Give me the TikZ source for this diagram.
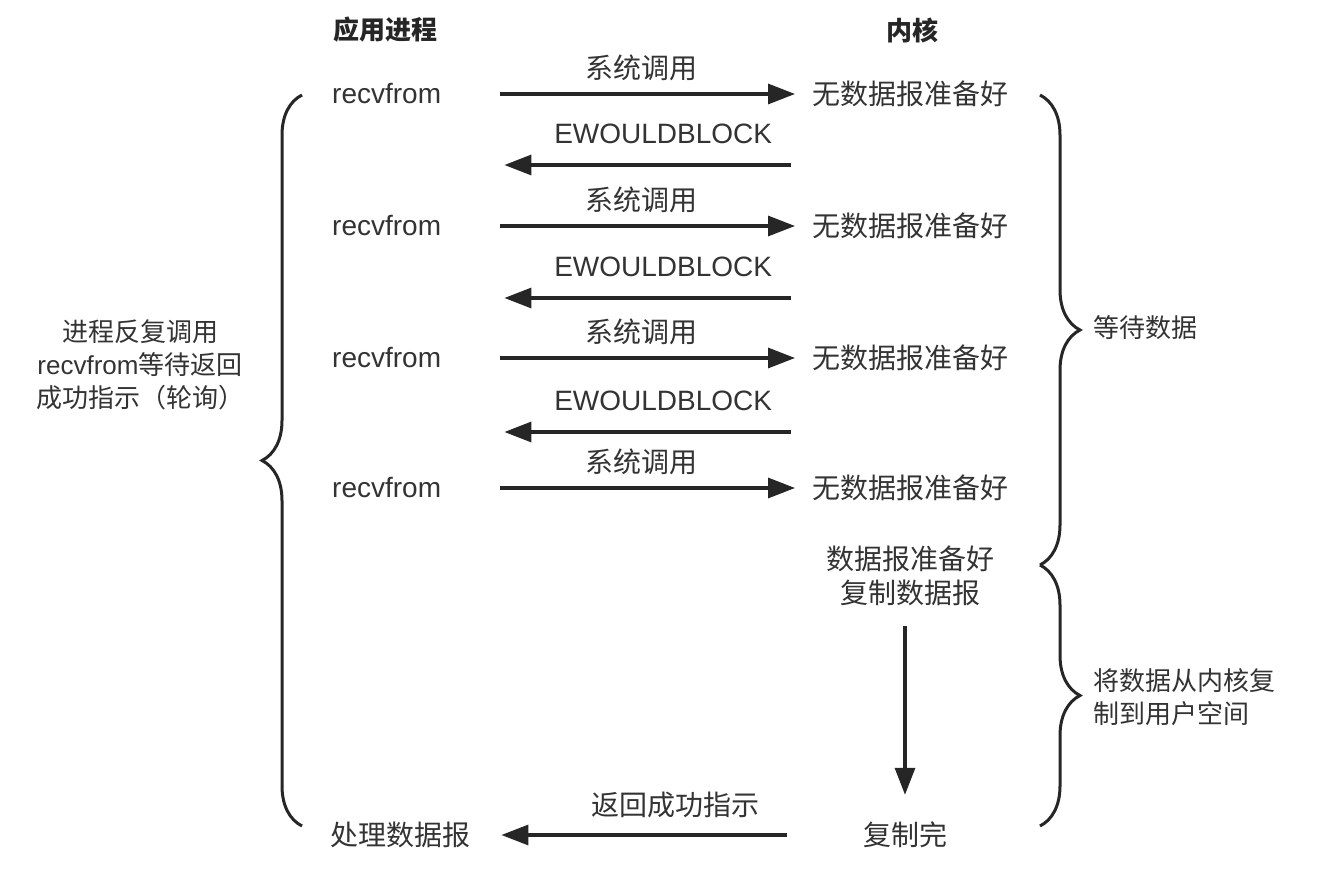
\documentclass[tikz,border=0pt]{standalone}
\usepackage{fontspec}
\setmainfont{Noto Sans CJK SC}
\newfontfamily\lat{Liberation Sans}
\usetikzlibrary{arrows.meta,decorations.pathreplacing}
\definecolor{textgray}{HTML}{333333}
\definecolor{linegray}{HTML}{262626}
\begin{document}
\begin{tikzpicture}[x=1pt,y=-1pt,
  txt/.style={font=\fontsize{28}{34}\selectfont, text=textgray, inner sep=0pt},
  side/.style={font=\fontsize{26}{33}\selectfont, text=textgray, inner sep=0pt},
  lcol/.style={txt, anchor=west, text width=150pt, align=left},
  kcol/.style={txt, anchor=west, text width=200pt, align=left},
  arr/.style={draw=linegray, line width=3.2pt, -{Triangle[length=27pt,width=20pt]}},
  brc/.style={draw=linegray, line width=3pt, decorate, decoration={brace, amplitude=40pt}}]
\useasboundingbox (0,0) rectangle (1328,890);
\fill[white] (0,0) rectangle (1328,890);

% titles
\node[side, font=\fontsize{26}{33}\selectfont\bfseries, text=black!85] (t1) at (385,30) {应用进程};
\node[side, font=\fontsize{26}{33}\selectfont\bfseries, text=black!85] (t2) at (912,30) {内核};

% application column
\node[lcol] (r1) at (332,94) {\lat recvfrom};
\node[lcol] (r2) at (332,226) {\lat recvfrom};
\node[lcol] (r3) at (332,358) {\lat recvfrom};
\node[lcol] (r4) at (332,488) {\lat recvfrom};
\node[lcol] (proc) at (330,835) {处理数据报};

% kernel column
\node[kcol] (k1) at (812,94) {无数据报准备好};
\node[kcol] (k2) at (812,226) {无数据报准备好};
\node[kcol] (k3) at (812,358) {无数据报准备好};
\node[kcol] (k4) at (812,488) {无数据报准备好};
\node[txt, align=center] (rdy) at (910,576) {数据报准备好\\复制数据报};
\node[txt] (done) at (905,835) {复制完};

% calls
\draw[arr, shorten <=18pt, shorten >=17pt] (r1.east) -- (k1.west) node[txt, midway, above=12pt, xshift=-6pt] {系统调用};
\draw[arr, shorten <=21pt, shorten >=22pt] (k1.west |- 0,165) -- (r1.east |- 0,165) node[txt, midway, above=20pt, xshift=16pt] {\lat EWOULDBLOCK};
\draw[arr, shorten <=18pt, shorten >=17pt] (r2.east) -- (k2.west) node[txt, midway, above=12pt, xshift=-6pt] {系统调用};
\draw[arr, shorten <=21pt, shorten >=22pt] (k2.west |- 0,298) -- (r2.east |- 0,298) node[txt, midway, above=20pt, xshift=16pt] {\lat EWOULDBLOCK};
\draw[arr, shorten <=18pt, shorten >=17pt] (r3.east) -- (k3.west) node[txt, midway, above=12pt, xshift=-6pt] {系统调用};
\draw[arr, shorten <=21pt, shorten >=22pt] (k3.west |- 0,432) -- (r3.east |- 0,432) node[txt, midway, above=20pt, xshift=16pt] {\lat EWOULDBLOCK};
\draw[arr, shorten <=18pt, shorten >=17pt] (r4.east) -- (k4.west) node[txt, midway, above=12pt, xshift=-6pt] {系统调用};

\draw[arr, shorten <=20pt, shorten >=27pt] (rdy.south -| done.north) -- (done.north);
\draw[arr, shorten <=76pt, shorten >=21pt] (done.west) -- (proc.east |- done.west) node[txt, midway, above=15pt, xshift=4pt] {返回成功指示};

% braces
\draw[brc] (302,826) -- (302,95);
\draw[brc] (1040,95) -- (1040,565);
\draw[brc] (1040,565) -- (1040,826);

\node[side, align=center] (lbl) at (140,365) {进程反复调用\\{\lat recvfrom}等待返回\\成功指示（轮询）};
\node[side, anchor=west] (wait) at (1093,328) {等待数据};
\node[side, anchor=west, align=left] (copy) at (1093,697) {将数据从内核复\\制到用户空间};
\end{tikzpicture}
\end{document}
